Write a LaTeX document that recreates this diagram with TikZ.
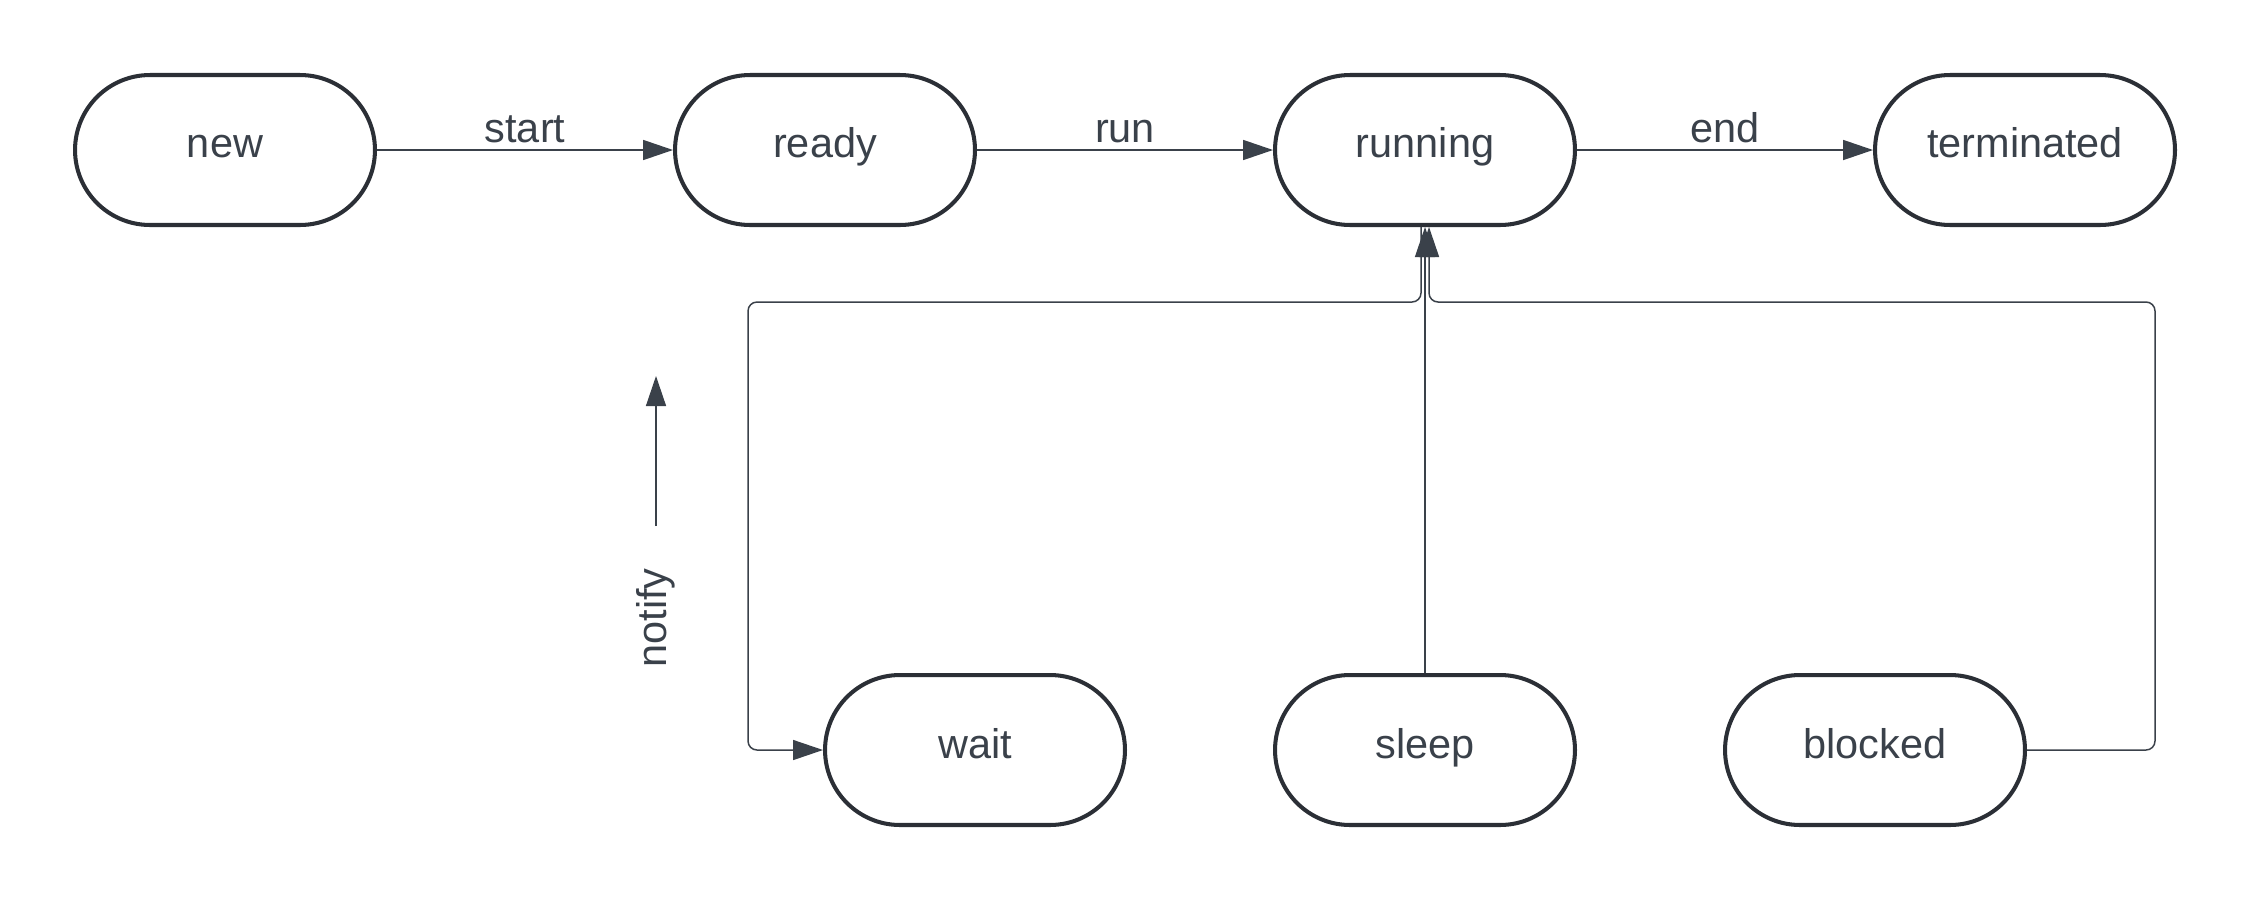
\documentclass[tikz,border=0pt]{standalone}
\usepackage{fontspec}
\setmainfont{Liberation Sans}
\usetikzlibrary{arrows.meta,calc}
\definecolor{linec}{HTML}{2B2F36}
\definecolor{textc}{HTML}{3A414A}
\begin{document}
\begin{tikzpicture}[x=0.02cm,y=-0.02cm,
  state/.style={draw=linec, line width=2.3pt, rounded corners=1.5cm,
    minimum width=6cm, minimum height=3cm, inner sep=0pt,
    text=textc, font=\fontsize{23.6pt}{28pt}\selectfont,
    text height=14pt, text depth=4.9pt},
  lbl/.style={text=textc, font=\fontsize{23.6pt}{28pt}\selectfont, inner sep=0pt},
  conn/.style={draw=textc, line width=1pt, -{Triangle[length=0.6cm,width=0.4cm]}},
  loopc/.style={draw=textc, line width=0.85pt, rounded corners=0.18cm, -{Triangle[length=0.6cm,width=0.4cm]}}]
\useasboundingbox (0,0) rectangle (2250,900);
% nodes
\node[state] (new) at (225,150) {new};
\node[state] (ready) at (825,150) {ready};
\node[state] (running) at (1425,150) {running};
\node[state] (terminated) at (2025,150) {terminated};
\node[state] (wait) at (975,750) {wait};
\node[state] (sleep) at (1425,750) {sleep};
\node[state] (blocked) at (1875,750) {blocked};
% top arrows
\draw[conn] (new) -- (ready);
\draw[conn] (ready) -- (running);
\draw[conn] (running) -- (terminated);
\node[lbl, anchor=base] (lstart) at (525,142) {start};
\node[lbl, anchor=base] (lrun) at (1125,142) {run};
\node[lbl, anchor=base] (lend) at (1725,142) {end};
% loops
\coordinate (w1) at (1421,302);
\coordinate (w2) at (748,302);
\coordinate (w3) at (748,750);
\draw[loopc] ([xshift=-0.08cm]running.south) -- (w1) -- (w2) -- (w3) -- (wait.west);
\draw[loopc] (sleep.north) -- (running.south);
\coordinate (b1) at (2155,750);
\coordinate (b2) at (2155,302);
\coordinate (b3) at (1429,302);
\draw[loopc] (blocked.east) -- (b1) -- (b2) -- (b3) -- ([xshift=0.08cm]running.south);
% notify
\coordinate (nb) at (656,526);
\coordinate (nt) at (656,376);
\draw[draw=textc, line width=0.8pt, -{Triangle[length=0.6cm,width=0.4cm]}] (nb) -- (nt);
\node[lbl, rotate=90] (lnotify) at (656,618) {notify};
\end{tikzpicture}
\end{document}
